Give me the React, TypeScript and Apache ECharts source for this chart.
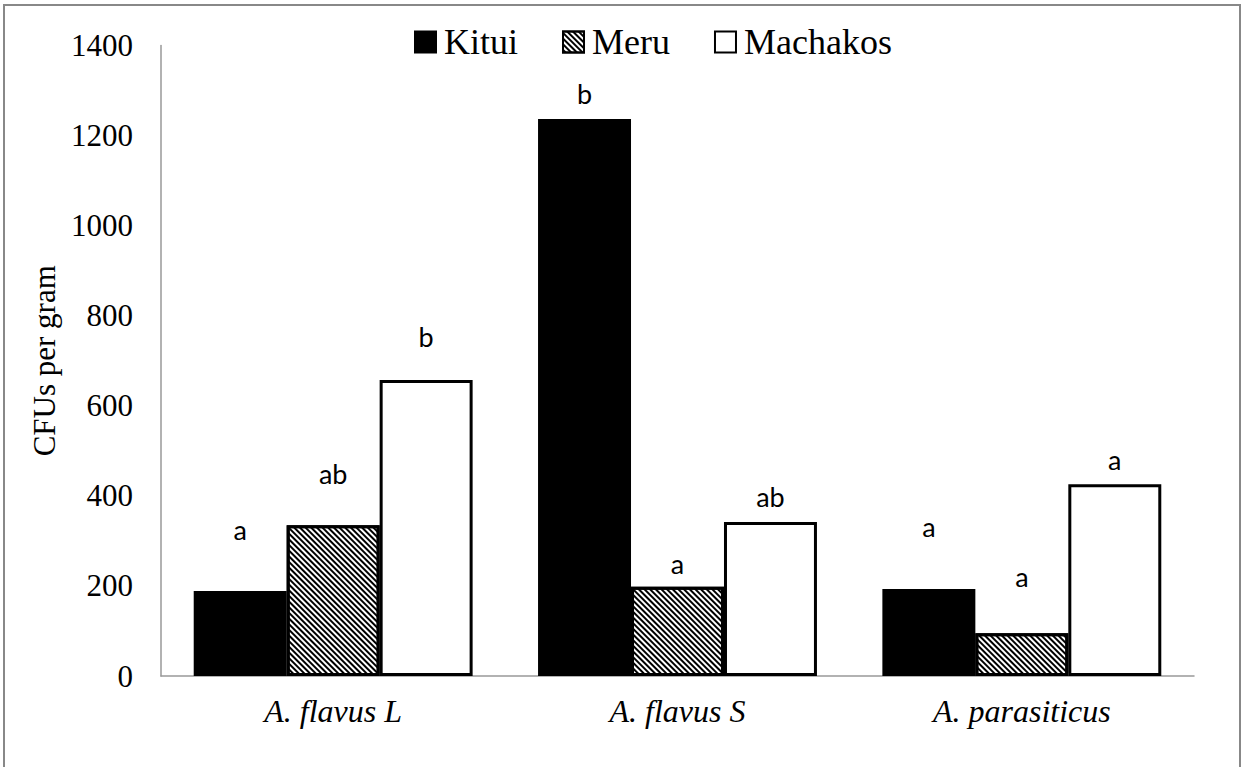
import React, { useEffect, useRef } from "react";
import * as echarts from "echarts";

const categories = ["A. flavus L", "A. flavus S", "A. parasiticus"];
const seriesNames = ["Kitui", "Meru", "Machakos"];
const kitui = [189, 1237, 193];
const meru = [335, 198, 95];
const machakos = [657, 342, 426];
const yTicks = [0, 200, 400, 600, 800, 1000, 1200, 1400];
// letters of significance and the height (CFU units) of each letter's centre
const kituiLetters = ["a", "b", "a"];
const meruLetters = ["ab", "a", "a"];
const machakosLetters = ["b", "ab", "a"];
const kituiLetterAt = [329, 1297, 335];
const meruLetterAt = [453, 253, 224];
const machakosLetterAt = [757, 402, 484];

export default function App() {
  const ref = useRef<HTMLDivElement>(null);
  useEffect(() => {
    if (!ref.current) return;
    const chart = echarts.init(ref.current, undefined, { renderer: "svg" });
    const serif = "Liberation Serif";
    const barBase = {
      type: "bar",
      barGap: "0%",
      barCategoryGap: "19%",
      silent: true,
    };
    const letterSeries = (name: string, stack: string, at: number[], vals: number[], letters: string[]) => ({
      type: "bar",
      name,
      stack,
      silent: true,
      barGap: "0%",
      barCategoryGap: "19%",
      itemStyle: { color: "rgba(0,0,0,0)", borderWidth: 0 },
      label: {
        show: true,
        position: "top",
        distance: -15,
        fontFamily: "Lato",
        fontSize: 27,
        color: "#000",
      },
      data: at.map((v, i) => ({
        value: v - vals[i],
        label: { formatter: letters[i] },
      })),
    });
    chart.setOption({
      animation: false,
      backgroundColor: "#fff",
      graphic: [
        {
          type: "rect",
          shape: { x: 4, y: 5, width: 1236, height: 780 },
          style: { fill: "none", stroke: "#888", lineWidth: 2 },
          silent: true,
        },
      ],
      legend: {
        data: seriesNames,
        left: 414,
        top: 24,
        padding: 0,
        itemWidth: 21,
        itemHeight: 21,
        itemGap: 44,
        icon: "rect",
        textStyle: { fontFamily: serif, fontSize: 36, color: "#000", padding: [0, 0, 0, 3] },
      },
      grid: { left: 161, right: 48, top: 45.5, bottom: 91, containLabel: false },
      xAxis: {
        type: "category",
        data: categories,
        axisLine: { lineStyle: { color: "#999", width: 1.5 } },
        axisTick: { show: false },
        axisLabel: {
          fontFamily: serif,
          fontStyle: "italic",
          fontSize: 32,
          color: "#000",
          margin: 19,
        },
      },
      yAxis: {
        type: "value",
        min: 0,
        max: 1400,
        interval: 200,
        name: "CFUs per gram",
        nameLocation: "middle",
        nameGap: 100,
        nameTextStyle: { fontFamily: serif, fontSize: 31, color: "#000" },
        axisLine: { show: true, lineStyle: { color: "#999", width: 1.5 } },
        axisTick: { show: false },
        splitLine: { show: false },
        axisLabel: {
          fontFamily: serif,
          fontSize: 31,
          color: "#000",
          margin: 28,
          formatter: (v: number) => (yTicks.includes(v) ? String(v) : ""),
        },
      },
      series: [
        {
          ...barBase,
          name: "Kitui",
          stack: "k",
          data: kitui,
          itemStyle: { color: "#000", borderColor: "#000", borderWidth: 3 },
        },
        {
          ...barBase,
          name: "Meru",
          stack: "m",
          data: meru,
          itemStyle: {
            color: "#fff",
            borderColor: "#000",
            borderWidth: 3,
            decal: {
              symbol: "rect",
              symbolSize: 1,
              color: "#000",
              backgroundColor: "#fff",
              dashArrayX: [1, 0],
              dashArrayY: [1.6, 2],
              rotation: Math.PI / 4,
            },
          },
        },
        {
          ...barBase,
          name: "Machakos",
          stack: "c",
          data: machakos,
          itemStyle: { color: "#fff", borderColor: "#000", borderWidth: 3 },
        },
        letterSeries("Kitui letters", "k", kituiLetterAt, kitui, kituiLetters),
        letterSeries("Meru letters", "m", meruLetterAt, meru, meruLetters),
        letterSeries("Machakos letters", "c", machakosLetterAt, machakos, machakosLetters),
      ],
    });
    return () => chart.dispose();
  }, []);
  return (
    <div
      ref={ref}
      style={{ position: "fixed", left: 0, top: 0, width: 1242, height: 767 }}
    />
  );
}
